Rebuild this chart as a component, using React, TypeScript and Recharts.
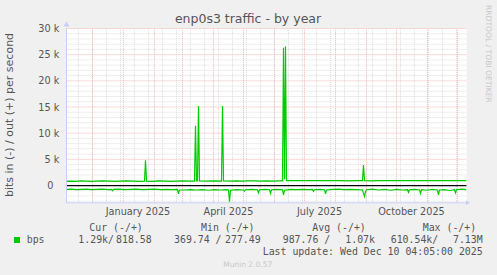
import React from 'react';
import { LineChart, Line, XAxis, YAxis, CartesianGrid, ReferenceLine } from 'recharts';

// days since start of the 400 day window (Nov 5 2024 -> Dec 10 2025)
const outDays = [0, 4, 9, 14, 19, 24, 30, 36, 42, 48, 54, 60, 66, 72, 78, 79, 80, 86, 92, 98, 104, 110, 116, 122, 128, 129, 130, 131, 132, 133, 140, 148, 155, 156, 157, 164, 170, 176, 182, 188, 194, 200, 206, 212, 216, 217, 218, 219, 220, 226, 234, 242, 250, 258, 266, 274, 282, 290, 296, 297, 298, 305, 312, 320, 330, 340, 350, 360, 370, 380, 390, 400];
const outBps = [800, 850, 800, 900, 850, 800, 850, 900, 850, 800, 850, 900, 850, 800, 850, 4800, 850, 800, 900, 850, 800, 850, 900, 850, 850, 11400, 900, 900, 15200, 900, 850, 900, 850, 15200, 900, 850, 900, 850, 900, 900, 850, 900, 850, 900, 900, 26300, 1200, 26600, 950, 950, 950, 950, 950, 950, 950, 950, 900, 950, 950, 3900, 950, 900, 950, 950, 950, 950, 950, 950, 950, 950, 950, 950];

const inDays = [0, 5, 10, 15, 20, 25, 30, 36, 42, 45, 46, 47, 52, 58, 64, 70, 76, 82, 88, 94, 100, 106, 111, 112, 113, 118, 124, 130, 136, 142, 148, 154, 160, 162, 163, 164, 170, 177, 178, 179, 185, 191, 192, 193, 198, 203, 204, 205, 210, 216, 217, 218, 224, 230, 236, 242, 246, 247, 248, 253, 258, 259, 260, 266, 272, 278, 284, 290, 296, 297, 298, 299, 300, 306, 312, 318, 324, 330, 336, 341, 342, 343, 348, 353, 354, 355, 360, 366, 371, 372, 373, 378, 383, 388, 389, 390, 395, 400];
const inBps = [-750, -700, -800, -750, -700, -800, -750, -700, -800, -750, -1000, -750, -700, -800, -750, -700, -800, -750, -700, -800, -750, -800, -750, -1600, -850, -850, -800, -850, -800, -900, -800, -850, -800, -850, -3100, -900, -800, -850, -1100, -800, -750, -800, -1400, -800, -750, -800, -1500, -800, -750, -800, -1800, -900, -750, -800, -750, -800, -750, -1100, -800, -750, -800, -1600, -850, -750, -700, -800, -750, -800, -850, -1500, -2100, -1200, -800, -700, -850, -750, -900, -750, -850, -800, -1300, -800, -750, -850, -1500, -800, -900, -750, -850, -1800, -850, -800, -950, -800, -1400, -800, -700, -800];

const xLabelDays = [71.5, 162, 253, 345];
const xLabels = ['January 2025', 'April 2025', 'July 2025', 'October 2025'];
const monthStartDays = [26, 57, 88, 116, 147, 177, 208, 238, 269, 300, 330, 361, 391];
const yTicks = [0, 5000, 10000, 15000, 20000, 25000, 30000];
const yLabels = ['0', '5 k', '10 k', '15 k', '20 k', '25 k', '30 k'];

const legendHeads = ['Cur (-/+)', 'Min (-/+)', 'Avg (-/+)', 'Max (-/+)'];
const legendIn = ['1.29k/', '369.74 /', '987.76 /', '610.54k/'];
const legendOut = ['818.58', '277.49', '1.07k', '7.13M'];

const outData = outDays.map((d, i) => ({ day: d, bps: outBps[i] }));
const inData = inDays.map((d, i) => ({ day: d, bps: inBps[i] }));

const minorY: number[] = [];
for (let v = -3000; v < 30000; v += 1000) if (v % 5000 !== 0) minorY.push(v);
const minorX: number[] = [];
for (let d = 12; d < 400; d += 14) minorX.push(d);

const AXIS = '#c8cff5';
const TXT = '#555555';
const MINOR = '#dcdcdc';
const MAJOR = '#f3b6b6';
const SANS = '"DejaVu Sans", sans-serif';
const MONO = '"DejaVu Sans Mono", monospace';

const YTick = (props: any) => {
  const { x, y, payload } = props;
  const i = yTicks.indexOf(payload.value);
  const isZero = payload.value === 0;
  return (
    <g>
      <text x={x - (isZero ? 13.2 : 7.2)} y={y + 3.5} textAnchor="end" fontFamily={SANS} fontSize={9.7} fill={TXT}>
        {yLabels[i]}
      </text>
      {payload.value === 30000 && (
        <polygon points={`${x - 3},${y - 2} ${x},${y - 7} ${x + 3},${y - 2}`} fill={AXIS} />
      )}
    </g>
  );
};

const XTick = (props: any) => {
  const { x, y, payload } = props;
  const i = xLabelDays.indexOf(payload.value);
  return (
    <text x={x} y={y + 12.5} textAnchor="middle" fontFamily={SANS} fontSize={9.7} fill={TXT}>
      {xLabels[i]}
    </text>
  );
};

const XArrow = (props: any) => {
  const vb = props.viewBox || {};
  const ex = vb.x + vb.width;
  return <polygon points={`${ex - 0.5},${vb.y - 2.5} ${ex + 3.5},${vb.y} ${ex - 0.5},${vb.y + 2.5}`} fill={AXIS} />;
};

const App: React.FC = () => {
  const cols = [89.3, 201, 312.3, 422.7];
  const inStart = [78.3, 174, 282.7, 390.7];
  const outEnd = [151.7, 260.7, 375, 482.7];
  return (
    <div style={{ position: 'fixed', left: 0, top: 0, width: 497, height: 275, background: '#f0f0f0' }}>
      <LineChart width={497} height={275} margin={{ top: 28.5, right: 30.5, bottom: 42.2, left: 6.5 }}>
        <CartesianGrid fill="#ffffff" horizontal={false} vertical={false} />
        {minorY.map((v) => (
          <ReferenceLine key={'my' + v} y={v} stroke={MINOR} strokeDasharray="1 1" />
        ))}
        {minorX.map((d) => (
          <ReferenceLine key={'mx' + d} x={d} stroke={MINOR} strokeDasharray="1 1" />
        ))}
        {yTicks.map((v) => (
          <ReferenceLine key={'Y' + v} y={v} stroke={MAJOR} strokeDasharray="1 1" />
        ))}
        {monthStartDays.map((d) => (
          <ReferenceLine key={'X' + d} x={d} stroke={MAJOR} strokeDasharray="1 1" />
        ))}
        <XAxis
          type="number"
          dataKey="day"
          domain={[0, 400]}
          allowDataOverflow
          ticks={xLabelDays}
          tick={<XTick />}
          tickLine={false}
          tickSize={0}
          tickMargin={0}
          axisLine={{ stroke: AXIS }}
          label={(p: any) => <XArrow {...p} />}
        />
        <YAxis
          type="number"
          domain={[-3300, 30000]}
          allowDataOverflow
          ticks={yTicks}
          tick={<YTick />}
          tickLine={false}
          tickSize={0}
          tickMargin={0}
          axisLine={{ stroke: AXIS }}
        />
        <Line data={outData} dataKey="bps" type="linear" stroke="#00cc00" strokeWidth={1.2} dot={false} activeDot={false} isAnimationActive={false} />
        <Line data={inData} dataKey="bps" type="linear" stroke="#00cc00" strokeWidth={1.2} dot={false} activeDot={false} isAnimationActive={false} />
        <ReferenceLine y={0} stroke="#000000" strokeWidth={1.3} />
      </LineChart>
      <svg width={497} height={275} style={{ position: 'absolute', left: 0, top: 0, pointerEvents: 'none' }}>
        <text x={248} y={23} textAnchor="middle" fontFamily={SANS} fontSize={12.5} fill={TXT}>
          enp0s3 traffic - by year
        </text>
        <text transform="translate(13,115) rotate(-90)" textAnchor="middle" fontFamily={SANS} fontSize={11} fill={TXT}>
          bits in (-) / out (+) per second
        </text>
        <text transform="translate(486,5) rotate(90)" textAnchor="start" fontFamily={SANS} fontSize={7.6} fill="#c8c8c8">
          RRDTOOL / TOBI OETIKER
        </text>
        {legendHeads.map((h, i) => (
          <text key={h} x={cols[i]} y={230.5} fontFamily={MONO} fontSize={9.9} fill={TXT} style={{ whiteSpace: 'pre' }}>
            {h}
          </text>
        ))}
        <rect x={14} y={237} width={6} height={6} fill="#00cc00" />
        <text x={26.7} y={243.2} fontFamily={MONO} fontSize={9.9} fill={TXT}>bps</text>
        {legendIn.map((s, i) => (
          <text key={'i' + i} x={inStart[i]} y={243.2} fontFamily={MONO} fontSize={9.9} fill={TXT} style={{ whiteSpace: 'pre' }}>
            {s}
          </text>
        ))}
        {legendOut.map((s, i) => (
          <text key={'o' + i} x={outEnd[i]} y={243.2} textAnchor="end" fontFamily={MONO} fontSize={9.9} fill={TXT}>
            {s}
          </text>
        ))}
        <text x={482.7} y={254.9} textAnchor="end" fontFamily={MONO} fontSize={9.9} fill={TXT}>
          Last update: Wed Dec 10 04:05:00 2025
        </text>
        <text x={247.7} y={267} textAnchor="middle" fontFamily={SANS} fontSize={7.5} fill="#c8c8c8">
          Munin 2.0.57
        </text>
      </svg>
    </div>
  );
};

export default App;
